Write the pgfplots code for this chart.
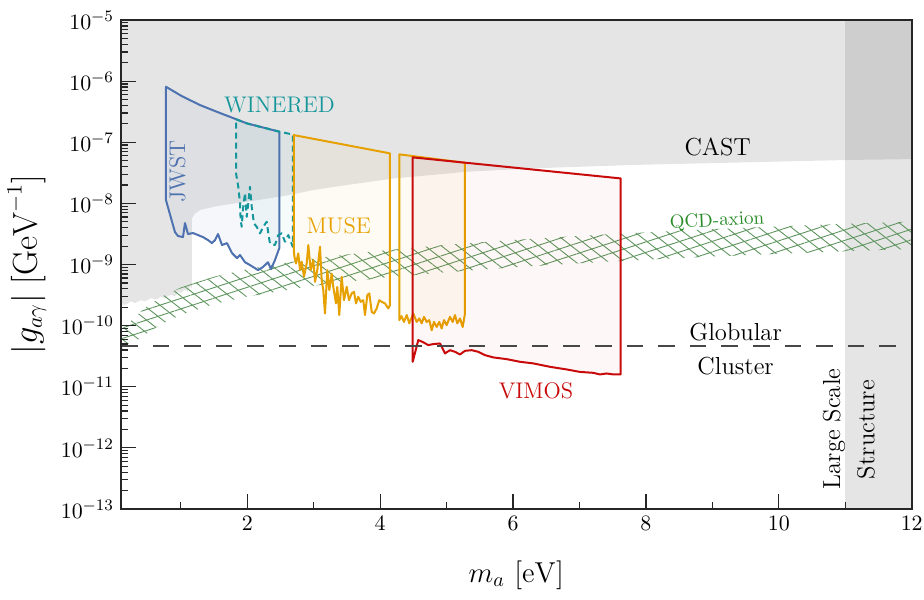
\documentclass[border=0pt]{standalone}
\usepackage{pgfplots}
\pgfplotsset{compat=1.18}
\usetikzlibrary{patterns.meta}
\definecolor{jwst}{RGB}{78,114,176}
\definecolor{winered}{RGB}{20,150,155}
\definecolor{muse}{RGB}{230,160,0}
\definecolor{vimos}{RGB}{200,10,10}
\definecolor{qcd}{RGB}{40,140,40}
\definecolor{hatch}{RGB}{95,150,95}
\begin{document}
\begin{tikzpicture}
\begin{axis}[
  scale only axis, width=395.35pt, height=244.5pt,
  xmin=0.1, xmax=12, ymode=log, ymin=1e-13, ymax=1e-5,
  xtick={2,4,6,8,10,12}, minor xtick={1,3,5,7,9,11},
  ytick={1e-13,1e-12,1e-11,1e-10,1e-9,1e-8,1e-7,1e-6,1e-5},
  tick align=inside, xtick pos=bottom, ytick pos=left,
  major tick length=7.5pt, minor tick length=3.75pt,
  tick style={black!85, line width=0.6pt},
  axis line style={black!85, line width=0.8pt},
  ticklabel style={font=\fontsize{11}{13}\selectfont},
  xlabel={$m_a\ [\mathrm{eV}]$},
  ylabel={$|g_{a\gamma}|\ [\mathrm{GeV}^{-1}]$},
  xlabel style={font=\fontsize{14.4}{16}\selectfont, at={(axis description cs:0.5,-0.135)}, anchor=center},
  ylabel style={font=\fontsize{16}{18}\selectfont, at={(axis description cs:-0.119,0.5)}, anchor=center, rotate=0},
  axis on top,
]
% CAST
\addplot[draw=none, fill=black, fill opacity=0.1] coordinates {
(0.1,1e-5) (12,1e-5) (12,5.3e-8) (11.04,5.13e-8) (7.76,4.24e-8) (6.30,3.74e-8) (5.30,3.29e-8) (4.2,2.55e-8) (3.50,2.0e-8) (2.99,1.65e-8) (2.64,1.37e-8) (2.04,1.08e-8) (1.82,1.0e-8) (1.54,9.0e-9) (1.29,7.8e-9) (1.2,6.6e-9) (1.165,5.6e-9) (1.165,4.1e-10) (1.14,4.4e-10) (1.10,3.6e-10) (1.06,3.9e-10) (1.01,3.4e-10) (0.96,3.6e-10) (0.91,3.0e-10) (0.85,3.2e-10) (0.76,2.8e-10) (0.70,3.0e-10) (0.64,2.7e-10) (0.55,2.8e-10) (0.46,2.5e-10) (0.40,2.6e-10) (0.31,2.35e-10) (0.25,2.5e-10) (0.18,2.2e-10) (0.1,2.2e-10)} -- cycle;
% Large scale structure
\addplot[draw=none, fill=black, fill opacity=0.1] coordinates {(11,1e-13) (12,1e-13) (12,1e-5) (11,1e-5)} -- cycle;
% QCD band
\addplot[draw=none, pattern={Lines[angle=18,distance=5pt,line width=0.45pt]}, pattern color=hatch] coordinates {
(0.1,8.5e-11) (0.15,9.5e-11) (0.2,1.05e-10) (0.3,1.35e-10) (0.4,1.7e-10) (0.5,2.1e-10) (0.7,2.94e-10) (1,4.2e-10) (1.5,6.3e-10) (2,8.4e-10) (3,1.26e-9) (4,1.68e-9) (5,2.1e-9) (6,2.52e-9) (7,2.94e-9) (8,3.36e-9) (9,3.78e-9) (10,4.2e-9) (11,4.62e-9) (12,5.04e-9)
(12,1.8e-9) (11,1.65e-9) (10,1.5e-9) (9,1.35e-9) (8,1.2e-9) (7,1.05e-9) (6,9.0e-10) (5,7.5e-10) (4,6.0e-10) (3,4.5e-10) (2,3.0e-10) (1.5,2.25e-10) (1,1.5e-10) (0.7,1.05e-10) (0.5,7.6e-11) (0.4,6.3e-11) (0.3,5.5e-11) (0.2,5.0e-11) (0.15,4.5e-11) (0.1,4.0e-11)} -- cycle;
\addplot[draw=none, pattern={Lines[angle=-38,distance=5pt,line width=0.45pt]}, pattern color=hatch] coordinates {
(0.1,8.5e-11) (0.15,9.5e-11) (0.2,1.05e-10) (0.3,1.35e-10) (0.4,1.7e-10) (0.5,2.1e-10) (0.7,2.94e-10) (1,4.2e-10) (1.5,6.3e-10) (2,8.4e-10) (3,1.26e-9) (4,1.68e-9) (5,2.1e-9) (6,2.52e-9) (7,2.94e-9) (8,3.36e-9) (9,3.78e-9) (10,4.2e-9) (11,4.62e-9) (12,5.04e-9)
(12,1.8e-9) (11,1.65e-9) (10,1.5e-9) (9,1.35e-9) (8,1.2e-9) (7,1.05e-9) (6,9.0e-10) (5,7.5e-10) (4,6.0e-10) (3,4.5e-10) (2,3.0e-10) (1.5,2.25e-10) (1,1.5e-10) (0.7,1.05e-10) (0.5,7.6e-11) (0.4,6.3e-11) (0.3,5.5e-11) (0.2,5.0e-11) (0.15,4.5e-11) (0.1,4.0e-11)} -- cycle;
% JWST
\addplot[draw=jwst, line width=1pt, line join=round, fill=jwst, fill opacity=0.06] coordinates {
(0.777,8.09e-7) (1.013,5.70e-7) (1.289,4.06e-7) (1.540,3.16e-7) (1.992,2.04e-7) (2.482,1.49e-7) (2.482,1.85e-9) (2.417,1.18e-9) (2.357,8.4e-10) (2.312,1.09e-9) (2.237,9.1e-10) (2.162,8.1e-10) (2.117,8.7e-10) (2.041,9.8e-10) (1.966,1.09e-9) (1.891,1.43e-9) (1.846,1.27e-9) (1.770,1.54e-9) (1.695,2.24e-9) (1.620,2.08e-9) (1.560,3.15e-9) (1.515,2.51e-9) (1.469,2.24e-9) (1.409,2.51e-9) (1.334,2.81e-9) (1.259,3.03e-9) (1.184,3.27e-9) (1.108,3.15e-9) (1.063,4.76e-9) (1.033,2.81e-9) (0.958,2.92e-9) (0.912,3.39e-9) (0.777,1.13e-8)} -- cycle;
% WINERED
\addplot[draw=winered, line width=1pt, dash pattern=on 3pt off 2pt, line join=round, fill=winered, fill opacity=0.04] coordinates {
(1.831,2.38e-7) (1.992,2.04e-7) (2.482,1.49e-7) (2.685,1.34e-7) (2.685,1.95e-9) (2.618,3.03e-9) (2.568,2.36e-9) (2.518,3.23e-9) (2.467,3.03e-9) (2.417,2.08e-9) (2.342,2.21e-9) (2.317,3.23e-9) (2.293,5.0e-9) (2.241,4.14e-9) (2.192,3.23e-9) (2.142,4.14e-9) (2.101,4.71e-9) (2.067,8.8e-9) (2.041,1.87e-8) (2.016,1.01e-8) (1.992,6.04e-9) (1.966,1.48e-8) (1.940,8.8e-9) (1.916,4.14e-9) (1.901,5.33e-9) (1.891,1.01e-8) (1.865,1.87e-8) (1.831,3.10e-8)} -- cycle;
% MUSE 1
\addplot[draw=muse, line width=1pt, line join=round, fill=muse, fill opacity=0.045] coordinates {
(2.70,1.31e-7) (4.148,6.58e-8) (4.148,2.17e-10) (4.123,1.91e-10) (4.073,2.31e-10) (4.023,2.45e-10) (3.987,2.61e-10) (3.948,1.91e-10) (3.907,1.58e-10) (3.873,1.68e-10) (3.837,3.37e-10) (3.807,3.16e-10) (3.772,1.49e-10) (3.746,2.61e-10) (3.707,2.45e-10) (3.671,2.96e-10) (3.637,2.31e-10) (3.606,3.57e-10) (3.572,3.37e-10) (3.531,2.61e-10) (3.497,4.31e-10) (3.456,2.61e-10) (3.421,6.3e-10) (3.385,1.49e-10) (3.355,4.31e-10) (3.335,2.31e-10) (3.295,4.31e-10) (3.271,7.1e-10) (3.235,3.81e-10) (3.205,8.1e-10) (3.170,1.58e-10) (3.144,3.81e-10) (3.120,5.56e-10) (3.095,1.95e-9) (3.054,8.1e-10) (3.020,5.2e-10) (2.994,1.18e-9) (2.955,8.1e-10) (2.919,2.08e-9) (2.895,1.04e-9) (2.854,6.3e-10) (2.819,1.11e-9) (2.794,8.1e-10) (2.768,1.52e-9) (2.734,1.04e-9) (2.710,1.34e-9) (2.70,1.72e-9)} -- cycle;
% MUSE 2
\addplot[draw=muse, line width=1pt, line join=round, fill=muse, fill opacity=0.045] coordinates {
(4.288,6.34e-8) (5.277,4.61e-8) (5.277,1.58e-10) (5.242,9.5e-11) (5.202,1.31e-10) (5.161,1.09e-10) (5.126,1.49e-10) (5.092,1.15e-10) (5.051,1.39e-10) (5.001,1.02e-10) (4.961,1.23e-10) (4.926,9.0e-11) (4.890,1.15e-10) (4.851,9.5e-11) (4.810,1.15e-10) (4.776,8.4e-11) (4.740,1.23e-10) (4.700,1.15e-10) (4.660,1.39e-10) (4.625,1.09e-10) (4.589,1.31e-10) (4.550,1.15e-10) (4.499,1.58e-10) (4.472,1.33e-10) (4.439,1.09e-10) (4.400,1.49e-10) (4.359,1.15e-10) (4.321,1.43e-10) (4.288,1.23e-10)} -- cycle;
% VIMOS
\addplot[draw=vimos, line width=1pt, line join=round, fill=vimos, fill opacity=0.03] coordinates {
(4.490,5.66e-8) (7.620,2.56e-8) (7.620,1.59e-11) (7.509,1.59e-11) (7.409,1.65e-11) (7.308,1.59e-11) (7.208,1.69e-11) (7.007,1.75e-11) (6.807,1.92e-11) (6.556,2.12e-11) (6.305,2.41e-11) (6.105,2.56e-11) (5.904,2.83e-11) (5.703,3.02e-11) (5.578,3.29e-11) (5.477,3.73e-11) (5.378,3.97e-11) (5.277,3.87e-11) (5.202,3.38e-11) (5.126,3.73e-11) (5.051,3.97e-11) (4.976,3.51e-11) (4.901,5.11e-11) (4.795,4.98e-11) (4.724,4.80e-11) (4.645,5.37e-11) (4.574,5.8e-11) (4.490,2.56e-11)} -- cycle;
% Globular cluster
\addplot[black!72, line width=1.1pt, dash pattern=on 8.3pt off 7.5pt] coordinates {(0.1,4.6e-11) (12,4.6e-11)};
% labels
\node[rotate=90, text=jwst, font=\fontsize{11.3}{13}\selectfont] at (axis cs:0.95,3.3e-8) {JWST};
\node[text=winered, font=\fontsize{11.3}{13}\selectfont] at (axis cs:2.485,4.06e-7) {WINERED};
\node[text=muse, font=\fontsize{11.3}{13}\selectfont] at (axis cs:3.378,4.25e-9) {MUSE};
\node[text=vimos, font=\fontsize{11.3}{13}\selectfont] at (axis cs:6.345,8.5e-12) {VIMOS};
\node[font=\fontsize{12.3}{14}\selectfont] at (axis cs:9.08,8.3e-8) {CAST};
\node[text=qcd, rotate=3, font=\fontsize{9.5}{11}\selectfont] at (axis cs:9.07,5.1e-9) {QCD-axion};
\node[font=\fontsize{12.3}{14}\selectfont] at (axis cs:9.35,7.8e-11) {Globular};
\node[font=\fontsize{12.3}{14}\selectfont] at (axis cs:9.35,2.17e-11) {Cluster};
\node[rotate=90, font=\fontsize{12.3}{14}\selectfont] at (axis cs:10.83,2.04e-12) {Large Scale};
\node[rotate=90, font=\fontsize{12.3}{14}\selectfont] at (axis cs:11.31,2.0e-12) {Structure};
\end{axis}
\pgfresetboundingbox
\path[use as bounding box] (-60.5pt,-45pt) rectangle (401.5pt,254.5pt);
\end{tikzpicture}
\end{document}
